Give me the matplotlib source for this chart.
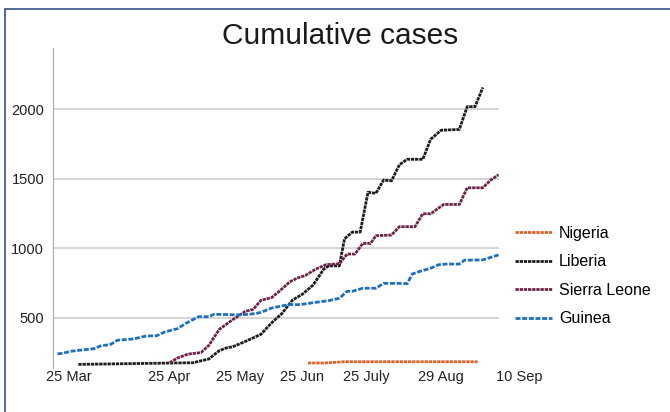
import matplotlib
matplotlib.use('Agg')
import matplotlib.pyplot as plt
from matplotlib.patches import Rectangle

plt.rcParams['font.family'] = ['Liberation Sans', 'DejaVu Sans']

# x values are days counted from 25 Mar 2014
guinea_day = [0, 2, 5, 9, 14, 17, 20, 23, 29, 34, 38, 41, 46, 49, 54, 58, 60, 67, 71,
              76, 78, 82, 86, 89, 93, 98, 104, 108, 111, 113, 117, 122, 125, 131, 134,
              136, 139, 143, 146, 149, 154, 156, 163, 166, 169]
guinea_cases = [240, 244, 258, 267, 277, 301, 304, 338, 347, 368, 370, 397, 421, 457,
                507, 507, 525, 521, 521, 530, 539, 569, 585, 594, 594, 608, 623, 640,
                690, 690, 712, 712, 747, 747, 745, 815, 834, 856, 881, 886, 886, 914,
                916, 934, 952]

liberia_day = [8, 52, 58, 62, 65, 67, 72, 78, 82, 86, 90, 94, 98, 102, 104, 108, 110,
               113, 116, 119, 122, 125, 128, 131, 134, 140, 143, 147, 154, 157, 160, 163]
liberia_cases = [164, 176, 203, 263, 284, 290, 329, 381, 462, 530, 626, 671, 736, 849,
                 873, 873, 1068, 1116, 1116, 1403, 1395, 1491, 1485, 1600, 1640, 1640,
                 1784, 1849, 1855, 2019, 2019, 2157]

sierra_day = [43, 46, 50, 55, 58, 62, 65, 67, 72, 75, 78, 82, 85, 89, 92, 95, 99, 103,
              108, 111, 114, 117, 120, 122, 128, 131, 137, 140, 143, 148, 154, 157, 163,
              166, 169]
sierra_cases = [176, 210, 238, 249, 301, 416, 457, 484, 546, 560, 626, 644, 690, 758,
                786, 804, 850, 882, 888, 958, 958, 1035, 1035, 1090, 1095, 1155, 1155,
                1248, 1248, 1315, 1315, 1435, 1435, 1490, 1529]

nigeria_day = [96, 102, 106, 110, 161]
nigeria_cases = [174, 174, 178, 183, 183]

tick_labels = ['25 Mar', '25 Apr', '25 May', '25 Jun', '25 July', '29 Aug', '10 Sep']
tick_days = [4.5, 42.9, 70.1, 93.6, 118.5, 147.1, 176.9]

fig = plt.figure(figsize=(6.7, 4.12), dpi=100)
ax = fig.add_axes([0.0784, 0.1068, 0.6664, 0.7767])

fine = (1.2, 0.3)
coarse = (1.8, 0.6)
ax.plot(nigeria_day, nigeria_cases, color='#d9652b', lw=2, dashes=fine, label='Nigeria')
ax.plot(liberia_day, liberia_cases, color='#1e1e1e', lw=2, dashes=fine, label='Liberia')
ax.plot(sierra_day, sierra_cases, color='#6c2449', lw=2, dashes=fine, label='Sierra Leone')
ax.plot(guinea_day, guinea_cases, color='#1f6fc1', lw=2, dashes=coarse, label='Guinea')

ax.set_xlim(-1.9, 169.2)
ax.set_ylim(138, 2441)
ax.set_yticks([500, 1000, 1500, 2000])
ax.yaxis.grid(True, color='#cacaca', lw=1.1)
ax.set_axisbelow(True)
ax.set_xticks([])
for s in ['top', 'right', 'bottom']:
    ax.spines[s].set_visible(False)
ax.spines['left'].set_color('#aaaaaa')
ax.tick_params(axis='y', length=0, pad=6, labelsize=10.5, labelcolor='#222222')

for d, lab in zip(tick_days, tick_labels):
    ax.text(d, -0.028, lab, transform=ax.get_xaxis_transform(), ha='center',
            va='center', fontsize=10.5, color='#222222', clip_on=False)

fig.legend(loc='upper left', bbox_to_anchor=(0.7687, 0.4515), frameon=False,
           fontsize=11.5, handlelength=2.3, handletextpad=0.45, labelspacing=0.84,
           borderpad=0, borderaxespad=0)

fig.text(0.507, 1 - 36 / 412, 'Cumulative cases', ha='center', va='center',
         fontsize=21.5, color='#1a1a1a')

# thin frame on the left and top edge
fig.add_artist(Rectangle((5 / 670, -0.5), 2, 0.5 + 1 - 9 / 412, transform=fig.transFigure,
                         fill=False, ec='#34508a', lw=1.2))

fig.savefig('out.png', dpi=100)
